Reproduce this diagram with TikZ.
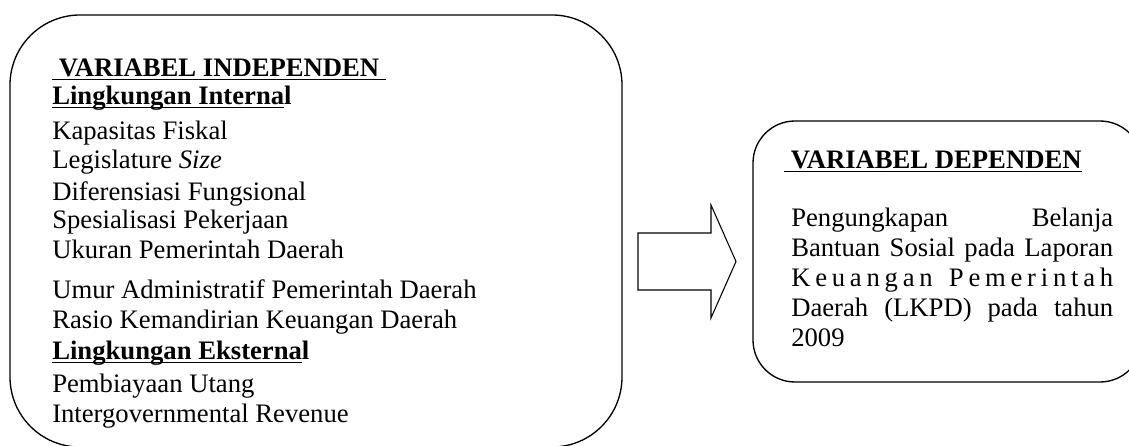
\documentclass[tikz,border=0pt]{standalone}
\usepackage{fontspec}
\setmainfont{Liberation Serif}
% underline drawn at a fixed depth, crossing descenders like a word processor does
\newsavebox\ulsave
\newcommand\ulbar[1]{\sbox\ulsave{#1}\rlap{\rule[-3pt]{\wd\ulsave}{1.1pt}}\usebox\ulsave}
\begin{document}
\begin{tikzpicture}[x=0.75pt,y=-0.75pt,
  panel/.style={draw, line width=1pt, inner sep=0pt},
  txt/.style={anchor=base west, inner sep=0pt, font=\fontsize{20}{24}\selectfont},
  fullline/.style={txt, text width=241.5pt}]

\useasboundingbox (0,0) rectangle (1129,446);

% the two rounded panels
\node[panel, rounded corners=52.5pt, minimum width=459pt, minimum height=324pt] (indep) at (316,231) {};
\node[panel, rounded corners=31.5pt, minimum width=291.75pt, minimum height=195.75pt] (dep) at (947.5,251.5) {};

% block arrow between the panels
\draw[line width=0.8pt] (638,233) -- (711,233) -- (711,205) -- (736,261.5)
  -- (711,318) -- (711,290) -- (638,290) -- cycle;

% independent variables
\node[txt] (h1) at (52,76) {\bfseries\ulbar{\ VARIABEL INDEPENDEN\ }};
\node[txt] (h2) at (52,104) {\bfseries\ulbar{Lingkungan Interna}l};
\node[txt] (a1) at (52,139) {Kapasitas Fiskal};
\node[txt] (a2) at (52,168) {Legislature \textit{Size}};
\node[txt] (a3) at (52,200) {Diferensiasi Fungsional};
\node[txt] (a4) at (52,228) {Spesialisasi Pekerjaan};
\node[txt] (a5) at (52,258) {Ukuran Pemerintah Daerah};
\node[txt] (a6) at (52,298) {Umur Administratif Pemerintah Daerah};
\node[txt] (a7) at (52,328) {Rasio Kemandirian Keuangan Daerah};
\node[txt] (h3) at (52,359) {\bfseries\ulbar{Lingkungan Eksterna}l};
\node[txt] (b1) at (52,392) {Pembiayaan Utang};
\node[txt] (b2) at (52,422) {Intergovernmental Revenue};

% dependent variable
\node[txt] (h4) at (784,168) {\bfseries\ulbar{\ VARIABEL DEPENDEN}};
\node[txt] (d1) at (791,226) {\makebox[241.5pt][s]{Pengungkapan Belanja}};
\node[txt] (d2) at (791,256) {\makebox[241.5pt][s]{Bantuan Sosial pada Laporan}};
\node[txt] (d3) at (791,286) {\makebox[241.5pt][s]{K\hfil e\hfil u\hfil a\hfil n\hfil g\hfil a\hfil n\hfil\ \hfil P\hfil e\hfil m\hfil e\hfil r\hfil i\hfil n\hfil t\hfil a\hfil h}};
\node[txt] (d4) at (791,316) {\makebox[241.5pt][s]{Daerah (LKPD) pada tahun}};
\node[txt] (d5) at (791,346) {2009};
\end{tikzpicture}
\end{document}
